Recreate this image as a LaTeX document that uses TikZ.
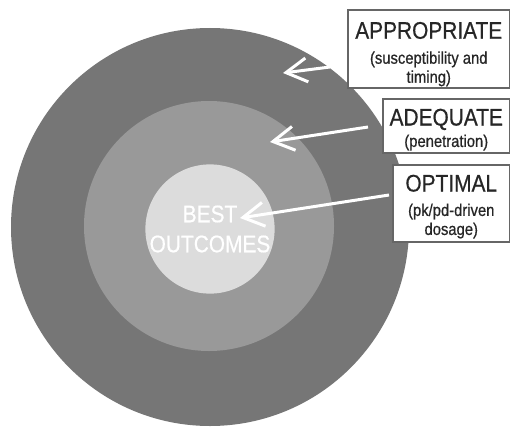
\documentclass[tikz,border=0pt]{standalone}
\usepackage{fontspec}
\setmainfont{Liberation Sans}[FakeStretch=0.87, FakeBold=0.6]
\usetikzlibrary{arrows.meta}
\definecolor{ringout}{RGB}{118,118,118}
\definecolor{ringmid}{RGB}{153,153,153}
\definecolor{ringin}{RGB}{220,220,220}
\newcommand\boxtitle[2][23pt]{{\fontsize{24}{25}\selectfont\rule{0pt}{#1}#2}}

\begin{document}
\begin{tikzpicture}[x=1pt, y=-1pt,
    disc/.style={circle, draw=none, inner sep=0pt},
    lbl/.style={draw=black!60, line width=1.2pt, fill=white, text=black!85,
      align=center, inner sep=0pt, font=\fontsize{17}{19}\selectfont},
    warrow/.style={white, line width=3pt,
      -{Straight Barb[length=21pt, width=24pt]}}]
      \useasboundingbox (0,0) rectangle (510,428);
      \clip (0,0) rectangle (510,428);

      \node[disc, fill=ringout, minimum size=398pt] (outer) at (210,227) {};
      \node[disc, fill=ringmid, minimum size=250pt] (middle) at (209,226) {};
      \node[disc, fill=ringin, minimum size=116pt, text=white, align=center,
        font=\fontsize{24}{30}\selectfont] (best) at (210,229) {BEST\\OUTCOMES};

      \node[lbl, minimum width=161.5pt, minimum height=78pt] (appr) at
        (428.75,49) {\boxtitle[27pt]{APPROPRIATE}\\[6pt]
        (susceptibility and\\timing)};
      \node[lbl, minimum width=126.5pt, minimum height=54pt] (adeq) at
        (446.25,126) {\boxtitle[24pt]{ADEQUATE}\\[2.4pt]
        (penetration)};
      \node[lbl, minimum width=116.5pt, minimum height=77pt] (opt) at
        (451.25,203.5) {\boxtitle{OPTIMAL}\\[5.4pt]
        (pk/pd-driven\\dosage)};

      \coordinate (appr tail) at (330,67);
      \coordinate (appr tip) at (283,73);
      \coordinate (adeq tail) at (368,127);
      \coordinate (adeq tip) at (270,142);
      \coordinate (opt tail) at (389,195);
      \coordinate (opt tip) at (240,218);
      \draw[warrow] (appr tail) -- (appr tip);
      \draw[warrow] (adeq tail) -- (adeq tip);
      \draw[warrow] (opt tail) -- (opt tip);
    \end{tikzpicture}
\end{document}
